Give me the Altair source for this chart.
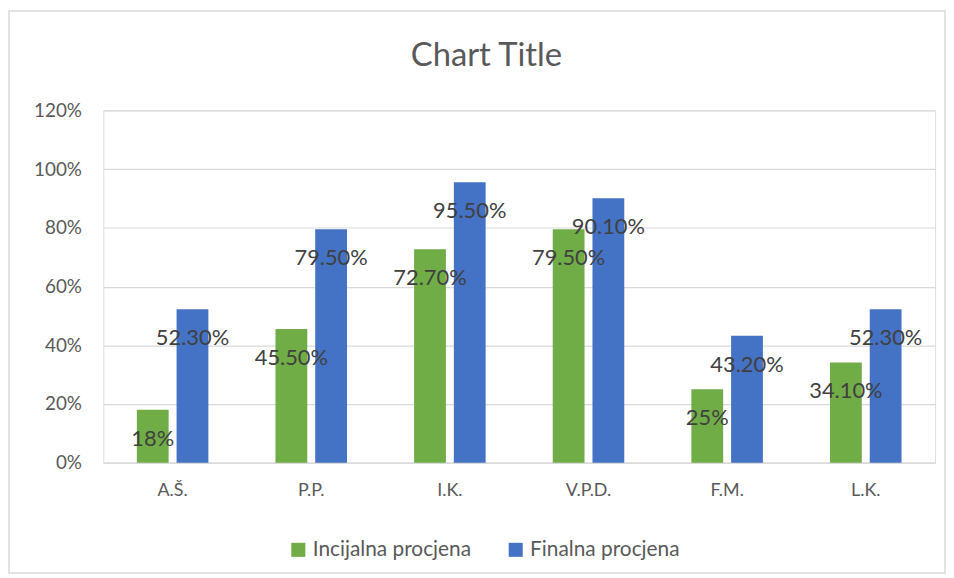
import altair as alt
import pandas as pd

people = ["A.Š.", "P.P.", "I.K.", "V.P.D.", "F.M.", "L.K."]
initial = [0.18, 0.455, 0.727, 0.795, 0.25, 0.341]
final = [0.523, 0.795, 0.955, 0.901, 0.432, 0.523]
initial_labels = ["18%", "45.50%", "72.70%", "79.50%", "25%", "34.10%"]
final_labels = ["52.30%", "79.50%", "95.50%", "90.10%", "43.20%", "52.30%"]
series = ["Incijalna procjena", "Finalna procjena"]
colors = ["#70AD47", "#4472C4"]

rows = []
for i, p in enumerate(people):
    rows.append({"person": p, "series": series[0], "value": initial[i], "label": initial_labels[i]})
    rows.append({"person": p, "series": series[1], "value": final[i], "label": final_labels[i]})
df = pd.DataFrame(rows)

W, H = 838, 355
FONT = "Lato"

x = alt.X("person:N", sort=people, title=None,
          scale=alt.Scale(paddingInner=0.484, paddingOuter=0.242),
          axis=alt.Axis(labelAngle=0, labelFontSize=18, labelColor="#595959", labelFont=FONT,
                        ticks=False, domainColor="#D9D9D9", domainWidth=1.5, labelPadding=19))
xo = alt.XOffset("series:N", sort=series, scale=alt.Scale(paddingInner=0.2))

bars = alt.Chart(df).mark_bar().encode(
    x=x,
    xOffset=xo,
    y=alt.Y("value:Q", title=None,
            scale=alt.Scale(domain=[0, 1.2], nice=False),
            axis=alt.Axis(format=".0%", values=[0, 0.2, 0.4, 0.6, 0.8, 1.0, 1.2],
                          labelFontSize=19, labelColor="#595959", labelFont=FONT,
                          ticks=False, domain=False, gridColor="#D9D9D9", gridWidth=1.2,
                          labelPadding=22)),
    color=alt.Color("series:N", sort=series, title=None,
                    scale=alt.Scale(domain=series, range=colors),
                    legend=alt.Legend(orient="none", direction="horizontal",
                                      legendX=186, legendY=432, symbolType="square",
                                      symbolSize=200, labelFontSize=21, labelColor="#595959",
                                      labelFont=FONT, columnPadding=34, symbolStrokeWidth=0)),
)

labels = alt.Chart(df).mark_text(fontSize=22, color="#404040", font=FONT, dy=29,
                                 baseline="middle").encode(
    x=alt.X("person:N", sort=people),
    xOffset=xo,
    y="value:Q",
    text="label:N",
)

title = alt.Chart(pd.DataFrame({"t": ["Chart Title"]})).mark_text(
    fontSize=33, color="#595959", font=FONT, baseline="middle", align="center"
).encode(x=alt.value(386), y=alt.value(-55), text="t:N")

border = alt.Chart(pd.DataFrame({"a": [1]})).mark_rect(
    fill=None, stroke="#D9D9D9", strokeWidth=1.5
).encode(x=alt.value(-95), x2=alt.value(848), y=alt.value(-100), y2=alt.value(466))

chart = alt.layer(border, bars, labels, title).properties(
    width=W, height=H, padding=0
).configure_view(stroke=None).configure(background="white")

chart.save("out.html", embed_options={"renderer": "svg", "actions": False})
